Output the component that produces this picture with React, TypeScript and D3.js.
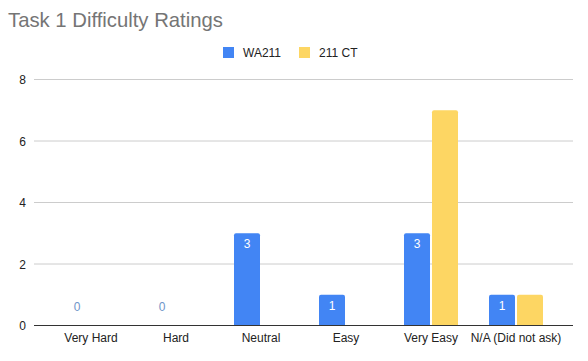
import React from "react";
import * as d3 from "d3";

const categories = ["Very Hard", "Hard", "Neutral", "Easy", "Very Easy", "N/A (Did not ask)"];
const seriesNames = ["WA211", "211 CT"];
const wa211 = [0, 0, 3, 1, 3, 1];
const ct211 = [0, 0, 0, 0, 7, 1];
const yTicks = [0, 2, 4, 6, 8];
const colors = ["#4285f4", "#fdd663"];

const W = 588, H = 361;
const font = "'Liberation Sans', Arial, sans-serif";

function barPath(x: number, y: number, w: number, h: number, r: number) {
  if (h <= 0) return "";
  const rr = Math.min(r, h, w / 2);
  return `M${x},${y + h}V${y + rr}Q${x},${y} ${x + rr},${y}H${x + w - rr}Q${x + w},${y} ${x + w},${y + rr}V${y + h}Z`;
}

export default function App() {
  const y = d3.scaleLinear().domain([0, 8]).range([325.5, 79.5]);
  const x0 = d3.scaleBand().domain(categories).range([48.5, 558.5]).paddingInner(0).paddingOuter(0);
  const barW = 26;
  const gap = 2;
  const series = [wa211, ct211];
  return (
    <svg width={W} height={H} style={{ position: "absolute", left: 0, top: 0, background: "#fff" }}>
      <rect width={W} height={H} fill="#fff" />
      <text x={8} y={27} fontFamily={font} fontSize={20.3} fill="#757575">Task 1 Difficulty Ratings</text>
      {seriesNames.map((n, i) => {
        const lx = [223, 299][i];
        return (
          <g key={n}>
            <rect x={lx} y={47} width={11} height={11} fill={colors[i]} />
            <text x={lx + 20} y={56.5} fontFamily={font} fontSize={12} fill="#222">{n}</text>
          </g>
        );
      })}
      {yTicks.map((t) => (
        <g key={t}>
          {t !== 0 && <line x1={34} x2={573} y1={y(t)} y2={y(t)} stroke="#cccccc" strokeWidth={1} />}
          <text x={26} y={y(t) + 4.5} textAnchor="end" fontFamily={font} fontSize={12} fill="#222">{t}</text>
        </g>
      ))}
      {categories.map((c, ci) => {
        const cx = (x0(c) as number) + x0.bandwidth() / 2;
        return (
          <g key={c}>
            {series.map((s, si) => {
              const bx = si === 0 ? cx - gap / 2 - barW : cx + gap / 2;
              const v = s[ci];
              const top = y(v);
              return (
                <g key={si}>
                  <path d={barPath(bx, top, barW, y(0) - top, 2)} fill={colors[si]} />
                  {si === 0 && v > 0 && (
                    <text x={bx + barW / 2} y={top + 15} textAnchor="middle" fontFamily={font} fontSize={12} fill="#fff">{v}</text>
                  )}
                  {si === 0 && v === 0 && (
                    <text x={bx + barW / 2} y={311} textAnchor="middle" fontFamily={font} fontSize={12} fill="#6f95c9">{v}</text>
                  )}
                </g>
              );
            })}
            <text x={cx} y={342} textAnchor="middle" fontFamily={font} fontSize={12} fill="#222">{c}</text>
          </g>
        );
      })}
      <line x1={34} x2={573} y1={y(0)} y2={y(0)} stroke="#333" strokeWidth={1} />
    </svg>
  );
}
